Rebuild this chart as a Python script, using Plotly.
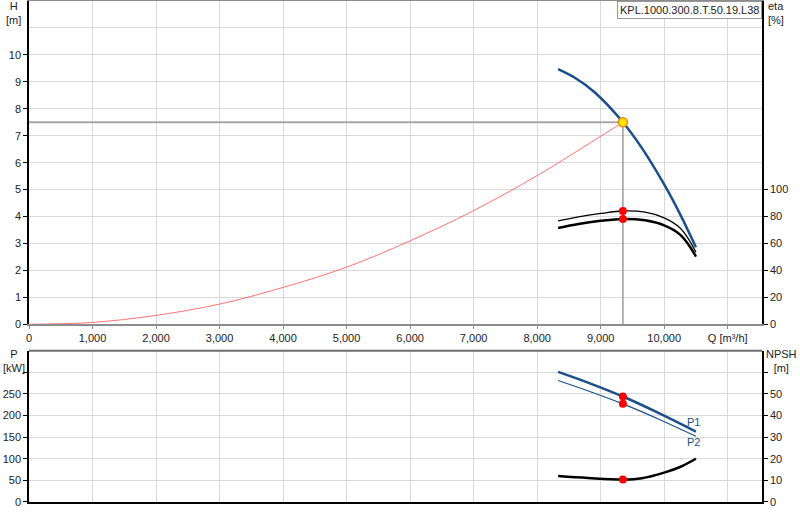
import plotly.graph_objs as go

# Pump curve (H over Q)
Q_H = [8330, 8600, 8900, 9350, 9650, 10000, 10250, 10500]
H = [9.47, 9.14, 8.62, 7.50, 6.54, 5.19, 4.09, 2.86]

# System curve
Q_sys = [0, 1000, 2000, 3000, 4000, 5000, 6000, 7000, 8000, 9000, 9350]
H_sys = [0, 0.07, 0.33, 0.75, 1.37, 2.12, 3.10, 4.22, 5.52, 6.98, 7.50]

# Efficiency curves [%]
Q_eta = [8330, 8650, 9000, 9350, 9700, 10000, 10250, 10400, 10500]
eta_1 = [76.7, 79.8, 82.3, 84.1, 83.2, 79.0, 71.5, 62.0, 53.5]
eta_2 = [71.5, 74.5, 76.8, 78.2, 77.2, 73.4, 66.6, 58.0, 50.3]

# Power curves [kW]
Q_P = [8330, 8840, 9350, 9925, 10500]
P1 = [301, 274, 244, 205, 163]
P2 = [281, 255, 227, 191, 152]

# NPSH [m]
Q_npsh = [8330, 8800, 9350, 9650, 10000, 10250, 10500]
npsh = [12.0, 11.1, 10.4, 11.0, 13.6, 16.2, 20.0]

# Duty point
Q_op = 9350
H_op = 7.5
eta_op = [84.1, 78.2]
P_op = [244, 227]
npsh_op = 10.4

x_ticks = [0, 1000, 2000, 3000, 4000, 5000, 6000, 7000, 8000, 9000, 10000, 11000]
x_labels = ['0', '1,000', '2,000', '3,000', '4,000', '5,000', '6,000', '7,000',
	'8,000', '9,000', '10,000', 'Q [m³/h]']
h_ticks = [0, 1, 2, 3, 4, 5, 6, 7, 8, 9, 10]
eta_ticks = [0, 20, 40, 60, 80, 100]
p_ticks = [0, 50, 100, 150, 200, 250, 300]
p_labels = ['0', '50', '100', '150', '200', '250', '']
npsh_ticks = [0, 10, 20, 30, 40, 50, 60]
npsh_labels = ['0', '10', '20', '30', '40', '50', '']

title_text = 'KPL.1000.300.8.T.50.19.L38'

BLUE = '#1b4f8a'
GRID = '#d9d9d9'
FONT = dict(family='Liberation Sans, Arial', size=11, color='#222222')

data = []

# Duty point guide lines
data.append(go.Scatter(x=[0, Q_op], y=[H_op, H_op], mode='lines',
	line=dict(color='#a6a6a6', width=2), xaxis='x', yaxis='y', showlegend=False))
data.append(go.Scatter(x=[Q_op, Q_op], y=[H_op, 0], mode='lines',
	line=dict(color='#8c8c8c', width=1.3), xaxis='x', yaxis='y', showlegend=False))

# System curve
data.append(go.Scatter(x=Q_sys, y=H_sys, mode='lines', line_shape='spline',
	line=dict(color='rgba(255,40,40,0.65)', width=1), xaxis='x', yaxis='y', showlegend=False))

# Pump curve
data.append(go.Scatter(x=Q_H, y=H, mode='lines', line_shape='spline',
	line=dict(color=BLUE, width=2.5), xaxis='x', yaxis='y', showlegend=False))

# Efficiency
data.append(go.Scatter(x=Q_eta, y=eta_1, mode='lines', line_shape='spline',
	line=dict(color='black', width=1.3), xaxis='x', yaxis='y2', showlegend=False))
data.append(go.Scatter(x=Q_eta, y=eta_2, mode='lines', line_shape='spline',
	line=dict(color='black', width=2.5), xaxis='x', yaxis='y2', showlegend=False))
data.append(go.Scatter(x=[Q_op, Q_op], y=eta_op, mode='markers',
	marker=dict(color='red', size=8), xaxis='x', yaxis='y2', showlegend=False))

# Duty point marker
data.append(go.Scatter(x=[Q_op], y=[H_op], mode='markers',
	marker=dict(color='#ffe600', size=9, line=dict(color='#f08c00', width=1.5)),
	xaxis='x', yaxis='y', showlegend=False))

# Power
data.append(go.Scatter(x=Q_P, y=P1, mode='lines', line_shape='spline',
	line=dict(color=BLUE, width=2.5), xaxis='x2', yaxis='y3', showlegend=False))
data.append(go.Scatter(x=Q_P, y=P2, mode='lines', line_shape='spline',
	line=dict(color=BLUE, width=1.2), xaxis='x2', yaxis='y3', showlegend=False))
data.append(go.Scatter(x=[Q_op, Q_op], y=P_op, mode='markers',
	marker=dict(color='red', size=8), xaxis='x2', yaxis='y3', showlegend=False))

# NPSH
data.append(go.Scatter(x=Q_npsh, y=npsh, mode='lines', line_shape='spline',
	line=dict(color='black', width=2.5), xaxis='x2', yaxis='y4', showlegend=False))
data.append(go.Scatter(x=[Q_op], y=[npsh_op], mode='markers',
	marker=dict(color='red', size=8), xaxis='x2', yaxis='y4', showlegend=False))

top_dom = [0.3547, 1]
bot_dom = [0, 0.302]
x_range = [0, 11540]

layout = {
	'width': 800,
	'height': 520,
	'font': FONT,
	'plot_bgcolor': 'white',
	'paper_bgcolor': 'white',
	'margin': dict(l=29, r=38, t=1, b=18, autoexpand=False),
	'xaxis': dict(
		domain=[0, 1], anchor='y', range=x_range, automargin=False,
		tickvals=x_ticks, ticktext=x_labels,
		showgrid=True, gridcolor=GRID, gridwidth=1,
		showline=True, linecolor='#8c8c8c', linewidth=2, mirror=True,
		ticks='outside', ticklen=3, tickcolor='#8c8c8c', zeroline=False,
		),
	'yaxis': dict(
		domain=top_dom, anchor='x', range=[0, 12], automargin=False,
		tickvals=h_ticks,
		showgrid=True, gridcolor=GRID, gridwidth=1,
		minor=dict(tickvals=[11], showgrid=True, gridcolor=GRID, ticks=''),
		showline=True, linecolor='black', linewidth=1.5,
		ticks='outside', ticklen=4, tickcolor='black', zeroline=False,
		),
	'yaxis2': dict(
		overlaying='y', side='right', anchor='x', range=[0, 240], automargin=False,
		tickvals=eta_ticks, showgrid=False,
		showline=True, linecolor='black', linewidth=1.5,
		ticks='outside', ticklen=4, tickcolor='black', zeroline=False,
		),
	'xaxis2': dict(
		domain=[0, 1], anchor='y3', range=x_range, automargin=False,
		tickvals=x_ticks, showticklabels=False,
		showgrid=True, gridcolor=GRID, gridwidth=1,
		showline=True, linecolor='black', linewidth=1.5,
		ticks='', zeroline=False,
		),
	'yaxis3': dict(
		domain=bot_dom, anchor='x2', range=[0, 350], automargin=False,
		tickvals=p_ticks, ticktext=p_labels,
		showgrid=True, gridcolor=GRID, gridwidth=1,
		showline=True, linecolor='black', linewidth=1.5,
		ticks='outside', ticklen=4, tickcolor='black', zeroline=False,
		),
	'yaxis4': dict(
		overlaying='y3', side='right', anchor='x2', range=[0, 70], automargin=False,
		tickvals=npsh_ticks, ticktext=npsh_labels, showgrid=False,
		showline=True, linecolor='black', linewidth=1.5,
		ticks='outside', ticklen=4, tickcolor='black', zeroline=False,
		),
	'shapes': [
		# top border of the lower panel
		dict(type='line', xref='paper', yref='paper', x0=0, x1=1,
			y0=bot_dom[1], y1=bot_dom[1], line=dict(color='#6e6e6e', width=2)),
		],
	'annotations': [
		dict(text=title_text, xref='paper', yref='paper', x=1, y=1,
			xanchor='right', yanchor='top', showarrow=False,
			bgcolor='white', bordercolor='#999999', borderwidth=1, borderpad=2,
			font=dict(family='Liberation Sans, Arial', size=11, color='#222222')),
		dict(text='H<br>[m]', xref='paper', yref='paper', x=-0.0205, y=0.977,
			xanchor='center', yanchor='middle', showarrow=False),
		dict(text='eta<br>[%]', xref='paper', yref='paper', x=1.006, y=0.977,
			xanchor='left', yanchor='middle', showarrow=False, align='left'),
		dict(text='P<br>[kW]', xref='paper', yref='paper', x=-0.0205, y=0.282,
			xanchor='center', yanchor='middle', showarrow=False),
		dict(text='NPSH<br>[m]', xref='paper', yref='paper', x=1.027, y=0.282,
			xanchor='center', yanchor='middle', showarrow=False),
		dict(text='P1', xref='x2', yref='y3', x=10467, y=184,
			showarrow=False, font=dict(color=BLUE, size=11)),
		dict(text='P2', xref='x2', yref='y3', x=10467, y=138,
			showarrow=False, font=dict(color=BLUE, size=11)),
		],
}

fig = go.Figure(data=data, layout=layout)
# drop the default page margin so the chart sits at the window's corner
fig.write_html('out.html', config={'displayModeBar': False},
	post_script="document.body.style.margin='0';")
